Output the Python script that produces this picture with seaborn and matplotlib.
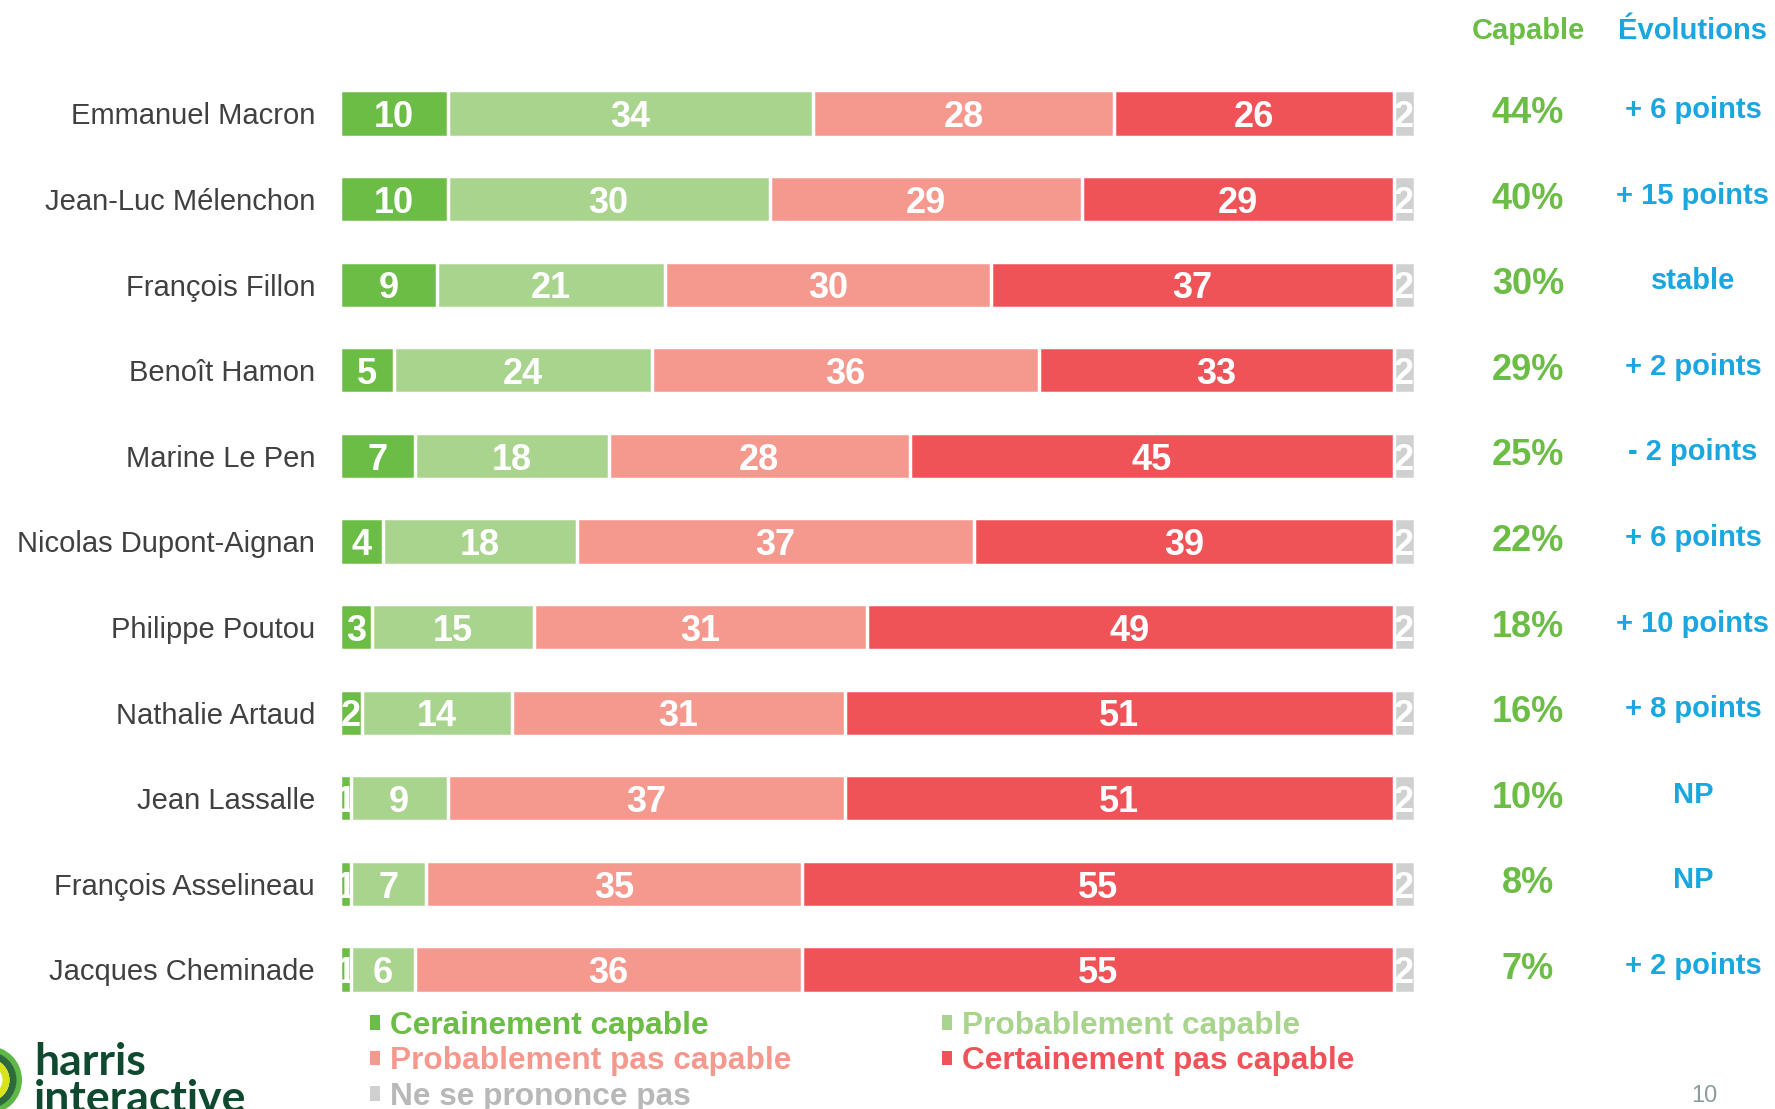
import numpy as np
import pandas as pd
import seaborn as sns
import matplotlib
matplotlib.use("Agg")
import matplotlib.pyplot as plt
from matplotlib.patches import Rectangle, Patch, Circle
from matplotlib.transforms import blended_transform_factory, IdentityTransform

# ---------------- data ----------------
candidates = ["Emmanuel Macron", "Jean-Luc Mélenchon", "François Fillon", "Benoît Hamon",
              "Marine Le Pen", "Nicolas Dupont-Aignan", "Philippe Poutou", "Nathalie Artaud",
              "Jean Lassalle", "François Asselineau", "Jacques Cheminade"]
certainement_capable = [10, 10, 9.0, 5, 7, 4, 3, 2, 1, 1, 1]
probablement_capable = [34, 30, 21.2, 24, 18, 18, 15, 14, 9, 7, 6]
probablement_pas_capable = [28, 29, 30.4, 36, 28, 37, 31, 31, 37, 35, 36]
certainement_pas_capable = [26, 29, 37.4, 33, 45, 39, 49, 51, 51, 55, 55]
ne_se_prononce_pas = [2, 2, 2, 2, 2, 2, 2, 2, 2, 2, 2]
capable_total = [44, 40, 30, 29, 25, 22, 18, 16, 10, 8, 7]
evolutions = ["+ 6 points", "+ 15 points", "stable", "+ 2 points", "- 2 points", "+ 6 points",
              "+ 10 points", "+ 8 points", "NP", "NP", "+ 2 points"]
series_names = ["Cerainement capable", "Probablement capable", "Probablement pas capable",
                "Certainement pas capable", "Ne se prononce pas"]

# ---------------- style ----------------
sns.set_style("white")
plt.rcParams["font.family"] = ["Liberation Sans", "DejaVu Sans"]

colors = ["#6CBD45", "#A9D48E", "#F5998E", "#EF5358", "#D0D0D0"]
GREEN_TXT = "#6CBD45"
BLUE_TXT = "#1AA7E0"

W, H = 1775, 1109
fig = plt.figure(figsize=(W / 100, H / 100), dpi=100)
row_h = 85.6
top_px = 113.5 - row_h / 2
ax_h = row_h * 11
ax = fig.add_axes([340 / W, 1 - (top_px + ax_h) / H, 1075 / W, ax_h / H])

series = [certainement_capable, probablement_capable, probablement_pas_capable,
          certainement_pas_capable, ne_se_prononce_pas]
vals = np.array(series, dtype=float)
cum = np.cumsum(vals, axis=0)

BAR_W = 0.54
for k in reversed(range(len(series))):
    df = pd.DataFrame({"candidat": candidates, "cum": cum[k]})
    sns.barplot(data=df, x="cum", y="candidat", orient="h", color=colors[k],
                saturation=1, width=BAR_W, edgecolor="white", linewidth=2.5, ax=ax)

# segment labels (clipped to their segment)
for k in range(len(series)):
    for i in range(len(candidates)):
        v = vals[k, i]
        left = cum[k, i] - v
        clip = Rectangle((left, i - BAR_W / 2), v, BAR_W, transform=ax.transData)
        t = ax.text(left + v / 2, i + 0.05, f"{int(round(v))}", ha="center", va="center",
                    color="white", fontsize=26, fontweight="bold", clip_on=True)
        t.set_clip_path(clip)

ax.set_xlim(0, 100)
ax.set_ylim(10.5, -0.5)
ax.set_xlabel("")
ax.set_ylabel("")
ax.set_xticks([])
for s in ax.spines.values():
    s.set_visible(False)
ax.tick_params(axis="y", length=0, pad=18, labelsize=21, labelcolor="#404040")

# right-hand columns
trans = blended_transform_factory(fig.transFigure, ax.transData)
for i in range(len(candidates)):
    ax.text(1528 / W, i + 0.0, f"{capable_total[i]}%", transform=trans, ha="center", va="center",
            color=GREEN_TXT, fontsize=26, fontweight="bold")
    ax.text(1693 / W, i - 0.04, evolutions[i], transform=trans, ha="center", va="center",
            color=BLUE_TXT, fontsize=21, fontweight="bold")

fig.text(1528 / W, 1 - 31 / H, "Capable", ha="center", va="center", color=GREEN_TXT,
         fontsize=21, fontweight="bold")
fig.text(1693 / W, 1 - 31 / H, "Évolutions", ha="center", va="center", color=BLUE_TXT,
         fontsize=21, fontweight="bold")

# legend (row-major order as in the reference)
order = [0, 2, 4, 1, 3]
handles = [Patch(facecolor=colors[j], edgecolor="none") for j in order]
labels = [series_names[j] for j in order]
leg = fig.legend(handles, labels, ncol=2, loc="upper left",
                 bbox_to_anchor=(370 / W, 1 - 1011 / H), frameon=False,
                 fontsize=22.8, handlelength=0.33, handleheight=0.33, handletextpad=0.3,
                 columnspacing=4.75, labelspacing=0.17, borderpad=0, borderaxespad=0)
for txt, j in zip(leg.get_texts(), order):
    txt.set_color(colors[j] if j != 4 else "#B8B8B8")
    txt.set_fontweight("bold")

# page number
fig.text(1704 / W, 1 - 1096 / H, "10", ha="center", va="center", color="#8C9C9C", fontsize=17)

# logo
for r, lw, c, fill in [(31, 6, "#5DB848", False), (25, 7, "#2F6A3B", False),
                       (18, 7, "#D9E31C", False), (12, 0, "#9ACB3C", True)]:
    fig.add_artist(Circle((-12, H - 1080), r, transform=IdentityTransform(), fill=fill,
                          facecolor=c if fill else "none", edgecolor=c,
                          linewidth=lw * 0.72))
fig.text(34 / W, 1 - 1075 / H, "harris", ha="left", va="baseline", color="#0F4A30",
         fontsize=32, fontweight="bold", family=["Lato", "DejaVu Sans"])
fig.text(34 / W, 1 - 1112 / H, "interactive", ha="left", va="baseline", color="#0F4A30",
         fontsize=32, fontweight="bold", family=["Lato", "DejaVu Sans"])

fig.savefig("out.png", dpi=100)
